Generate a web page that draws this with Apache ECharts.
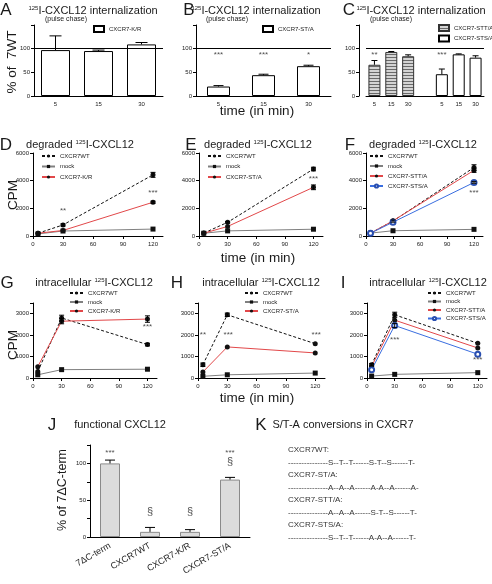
<!DOCTYPE html>
<html><head><meta charset="utf-8">
<script src="https://cdn.jsdelivr.net/npm/echarts@6/dist/echarts.min.js"></script>
<style>html,body{margin:0;padding:0;background:#fff}#c{width:492px;height:584px}</style>
</head><body><div id="c"></div>
<script>
// ---------------- data ----------------
const pulseTimes = ['5', '15', '30'];
const cTimes = ['5', '15', '30', '', '5', '15', '30'];
const krIntern = [97, 95, 109];
const krInternErr = [30, 2, 4];
const staIntern = [20, 44, 63];
const staInternErr = [2, 2, 2];
const sttaIntern = [66, 93, 84, null, null, null, null];
const sttaInternErr = [9, 1, 3, null, null, null, null];
const stsaIntern = [null, null, null, null, 46, 88, 81];
const stsaInternErr = [null, null, null, null, 11, 1, 4];
const starsB = [['5', 86, '***'], ['15', 86, '***'], ['30', 86, '*']];
const starsC = [[0, 88, '**'], [4, 86, '***']];

const chaseTimes = [5, 30, 120];
// degraded
const dWT = [200, 800, 4420], dWTErr = [0, 80, 180];
const dMock = [150, 360, 500];
const dKR = [200, 400, 2440], dKRErr = [0, 0, 80];
const eWT = [210, 990, 4840], eWTErr = [0, 60, 130];
const eMock = [200, 370, 490];
const eSTA = [200, 690, 3520], eSTAErr = [0, 0, 170];
const fWT = [210, 1080, 4950], fWTErr = [0, 80, 200];
const fMock = [210, 380, 480];
const fSTTA = [200, 1100, 4750], fSTTAErr = [0, 0, 150];
const fSTSA = [200, 1000, 3870], fSTSAErr = [0, 0, 60];
// intracellular
const gWT = [300, 2800, 1560], gWTErr = [0, 130, 60];
const gMock = [150, 390, 410];
const gKR = [530, 2650, 2750], gKRErr = [0, 120, 150];
const hWT = [620, 2950, 1600], hWTErr = [80, 80, 0];
const hMock = [80, 150, 230];
const hSTA = [280, 1450, 1170];
const iWT = [620, 2950, 1620], iWTErr = [60, 120, 0];
const iMock = [90, 170, 250];
const iSTTA = [540, 2700, 1400];
const iSTSA = [390, 2450, 1110], iSTSAErr = [0, 100, 0];
const starsD = [[30, 1850, '**'], [120, 3150, '***']];
const starsE = [[120, 4170, '***']];
const starsF = [[120, 3130, '***']];
const starsG = [[120, 2380, '***']];
const starsH = [[5, 2000, '**'], [31, 2000, '***'], [121, 2000, '***']];
const starsI = [[30, 1800, '***'], [120, 850, '***']];
// functional
const jCats = ['7\u0394C-term', 'CXCR7WT', 'CXCR7-K/R', 'CXCR7-ST/A'];
const jVals = [100, 7, 7, 78];
const jErr = [4.5, 6, 3, 3];
const starsJ = [[0, 114, '***'], [1, 34, '\u00a7'], [2, 34, '\u00a7'], [3, 114, '***'], [3, 102, '\u00a7']];
// sequences
const kLines = [
  'CXCR7WT:',
  '---------------S--T--T------S-T--S------T-',
  'CXCR7-ST/A:',
  '---------------A--A--A------A-A--A------A-',
  'CXCR7-STT/A:',
  '---------------A--A--A------S-T--S------T-',
  'CXCR7-STS/A:',
  '---------------S--T--T------A-A--A------T-'
];

// ---------------- helpers ----------------
const FONT = '"Liberation Sans", Arial, Helvetica, sans-serif';
const BLACK = '#111';
const RED = '#e2484a';
const BLUE = '#3a6ee0';
const GREY = '#808080';

const grids = [
  {left: 34, top: 25, width: 129, height: 71},   // A 0
  {left: 196, top: 25, width: 135, height: 71},  // B 1
  {left: 366, top: 25, width: 118, height: 71},  // C 2
  {left: 33, top: 153, width: 130, height: 83},  // D 3
  {left: 199, top: 153, width: 124, height: 83}, // E 4
  {left: 366, top: 153, width: 117, height: 83}, // F 5
  {left: 33, top: 303, width: 124, height: 75},  // G 6
  {left: 198, top: 303, width: 127, height: 75}, // H 7
  {left: 367, top: 303, width: 120, height: 75}, // I 8
  {left: 90, top: 445, width: 160, height: 92}   // J 9
];

const axLine = {show: true, lineStyle: {color: '#000', width: 1}};
const plain = v => String(v);
const lblBase = {fontSize: 6, color: '#222', fontFamily: FONT};
const xAxes = [], yAxes = [];
function catX(gi, data, extra) {
  xAxes.push(Object.assign({type: 'category', gridIndex: gi, data: data, axisLine: axLine,
    axisTick: {show: false}, axisLabel: Object.assign({}, lblBase, {interval: 0, margin: 5}), splitLine: {show: false}}, extra || {}));
}
function valX(gi) {
  xAxes.push({type: 'value', gridIndex: gi, min: 0, max: 130, interval: 30, axisLine: axLine,
    axisTick: {show: true, length: 3, customValues: [0, 30, 60, 90, 120]},
    axisLabel: Object.assign({}, lblBase, {customValues: [0, 30, 60, 90, 120], margin: 5, formatter: plain}), splitLine: {show: false}});
}
function valY(gi, max, interval, labels, extra) {
  yAxes.push(Object.assign({type: 'value', gridIndex: gi, min: 0, max: max, interval: interval, axisLine: axLine,
    axisTick: {show: true, length: 3},
    axisLabel: Object.assign({}, lblBase, {customValues: labels, margin: 4, formatter: plain}), splitLine: {show: false}}, extra || {}));
}
catX(0, pulseTimes); valY(0, 150, 50, [0, 50, 100]);
catX(1, pulseTimes); valY(1, 150, 50, [0, 50, 100]);
catX(2, cTimes); valY(2, 150, 50, [0, 50, 100], {offset: 7});
for (let g = 3; g <= 5; g++) { valX(g); valY(g, 6000, 2000, [0, 2000, 4000, 6000]); }
for (let g = 6; g <= 8; g++) { valX(g); valY(g, 3500, 1000, [0, 1000, 2000, 3000]); }
catX(9, jCats, {axisLabel: {interval: 0, rotate: 30, fontSize: 9, color: '#222', fontFamily: FONT, margin: 8}});
valY(9, 125, 25, [0, 50, 100]);

function errRender(capW, upOnly) {
  return function (params, api) {
    const x = api.value(0), y = api.value(1), e = api.value(2);
    if (!e) return null;
    const lo = api.coord([x, upOnly ? y : y - e]);
    const hi = api.coord([x, y + e]);
    const s = {stroke: '#000', lineWidth: 1};
    const ch = [
      {type: 'line', shape: {x1: hi[0], y1: hi[1], x2: lo[0], y2: lo[1]}, style: s},
      {type: 'line', shape: {x1: hi[0] - capW / 2, y1: hi[1], x2: hi[0] + capW / 2, y2: hi[1]}, style: s}
    ];
    if (!upOnly) ch.push({type: 'line', shape: {x1: lo[0] - capW / 2, y1: lo[1], x2: lo[0] + capW / 2, y2: lo[1]}, style: s});
    return {type: 'group', children: ch};
  };
}
const series = [];
function errSeries(gi, xs, vals, errs, capW, upOnly) {
  const data = [];
  vals.forEach((v, i) => { if (v != null && errs[i]) data.push([xs[i], v, errs[i]]); });
  series.push({type: 'custom', xAxisIndex: gi, yAxisIndex: gi, renderItem: errRender(capW, upOnly),
    encode: {x: 0, y: 1}, data: data, z: 5, silent: true});
}
function starSeries(gi, stars, size) {
  series.push({type: 'scatter', xAxisIndex: gi, yAxisIndex: gi, symbolSize: 1, silent: true,
    itemStyle: {color: 'rgba(0,0,0,0)'}, z: 6,
    label: {show: true, position: 'inside', formatter: '{b}', fontSize: size || 8, color: '#222', fontFamily: FONT},
    data: stars.map(s => ({name: s[2], value: [s[0], s[1]]}))});
}
const ref100 = {silent: true, symbol: 'none', label: {show: false}, lineStyle: {color: '#000', type: 'solid', width: 1},
  data: [{yAxis: 100}], animation: false};
const openBar = {color: '#fff', borderColor: '#000', borderWidth: 1};

// stripe pattern for STT/A bars
const pc = document.createElement('canvas');
pc.width = 4; pc.height = 3;
const pctx = pc.getContext('2d');
pctx.fillStyle = '#d4d4d4'; pctx.fillRect(0, 0, 4, 3);
pctx.fillStyle = '#6a6a6a'; pctx.fillRect(0, 0, 4, 1);
const stripe = {image: pc, repeat: 'repeat'};

// A
series.push({type: 'bar', name: 'CXCR7-K/R#A', xAxisIndex: 0, yAxisIndex: 0, data: krIntern, barWidth: 29, itemStyle: openBar, markLine: ref100});
errSeries(0, [0, 1, 2], krIntern, krInternErr, 12, true);
// B
series.push({type: 'bar', name: 'CXCR7-ST/A#B', xAxisIndex: 1, yAxisIndex: 1, data: staIntern, barWidth: 23, itemStyle: openBar, markLine: ref100});
errSeries(1, [0, 1, 2], staIntern, staInternErr, 10, true);
starSeries(1, starsB);
// C
series.push({type: 'bar', name: 'CXCR7-STT/A#C', xAxisIndex: 2, yAxisIndex: 2, data: sttaIntern, barWidth: 12, barGap: '-100%',
  itemStyle: {color: stripe, borderColor: '#333', borderWidth: 1}, markLine: ref100});
series.push({type: 'bar', name: 'CXCR7-STS/A#C', xAxisIndex: 2, yAxisIndex: 2, data: stsaIntern, barWidth: 12, barGap: '-100%', itemStyle: openBar});
errSeries(2, [0, 1, 2, 3, 4, 5, 6], sttaIntern, sttaInternErr, 6, true);
errSeries(2, [0, 1, 2, 3, 4, 5, 6], stsaIntern, stsaInternErr, 6, true);
starSeries(2, starsC);

// line panels
const styles = {
  WT: {symbol: 'circle', symbolSize: 5, itemStyle: {color: BLACK}, lineStyle: {color: BLACK, width: 1, type: [3, 2]}},
  mock: {symbol: 'rect', symbolSize: 5, itemStyle: {color: BLACK}, lineStyle: {color: GREY, width: 1}},
  mut: {symbol: 'circle', symbolSize: 5, itemStyle: {color: BLACK}, lineStyle: {color: RED, width: 1}},
  sts: {symbol: 'emptyCircle', symbolSize: 5, itemStyle: {color: '#2a4fb0', borderColor: '#2a4fb0', borderWidth: 1}, lineStyle: {color: BLUE, width: 1}}
};
function lineSeries(gi, name, vals, st, errs) {
  series.push(Object.assign({type: 'line', name: name, xAxisIndex: gi, yAxisIndex: gi,
    data: chaseTimes.map((t, i) => [t, vals[i]]), z: 3}, JSON.parse(JSON.stringify(styles[st]))));
  if (errs) errSeries(gi, chaseTimes, vals, errs, 5, false);
}
lineSeries(3, 'CXCR7WT#D', dWT, 'WT', dWTErr);
lineSeries(3, 'mock#D', dMock, 'mock');
lineSeries(3, 'CXCR7-K/R#D', dKR, 'mut', dKRErr);
starSeries(3, starsD);
lineSeries(4, 'CXCR7WT#E', eWT, 'WT', eWTErr);
lineSeries(4, 'mock#E', eMock, 'mock');
lineSeries(4, 'CXCR7-ST/A#E', eSTA, 'mut', eSTAErr);
starSeries(4, starsE);
lineSeries(5, 'CXCR7WT#F', fWT, 'WT', fWTErr);
lineSeries(5, 'mock#F', fMock, 'mock');
lineSeries(5, 'CXCR7-STT/A#F', fSTTA, 'mut', fSTTAErr);
lineSeries(5, 'CXCR7-STS/A#F', fSTSA, 'sts', fSTSAErr);
starSeries(5, starsF);
lineSeries(6, 'CXCR7WT#G', gWT, 'WT', gWTErr);
lineSeries(6, 'mock#G', gMock, 'mock');
lineSeries(6, 'CXCR7-K/R#G', gKR, 'mut', gKRErr);
starSeries(6, starsG);
lineSeries(7, 'CXCR7WT#H', hWT, 'WT', hWTErr);
lineSeries(7, 'mock#H', hMock, 'mock');
lineSeries(7, 'CXCR7-ST/A#H', hSTA, 'mut');
starSeries(7, starsH);
lineSeries(8, 'CXCR7WT#I', iWT, 'WT', iWTErr);
lineSeries(8, 'mock#I', iMock, 'mock');
lineSeries(8, 'CXCR7-STT/A#I', iSTTA, 'mut');
lineSeries(8, 'CXCR7-STS/A#I', iSTSA, 'sts', iSTSAErr);
starSeries(8, starsI);
// J
series.push({type: 'bar', name: 'functional', xAxisIndex: 9, yAxisIndex: 9, data: jVals, barWidth: 20,
  itemStyle: {color: '#dcdcdc', borderColor: '#8a8a8a', borderWidth: 1}});
errSeries(9, [0, 1, 2, 3], jVals, jErr, 10, true);
series.push({type: 'scatter', xAxisIndex: 9, yAxisIndex: 9, symbolSize: 1, silent: true, itemStyle: {color: 'rgba(0,0,0,0)'}, z: 6,
  label: {show: true, position: 'inside', formatter: '{b}', color: '#222', fontFamily: FONT},
  data: starsJ.map(s => ({name: s[2], value: [s[0], s[1]], label: {fontSize: s[2] === '***' ? 8 : 11}}))});

// legends
function legend(left, top, names, gap, bar) {
  const l = {left: left, top: top, padding: 0, orient: 'vertical', itemGap: gap, itemWidth: bar ? 10 : 13, itemHeight: bar ? 6 : 4,
    selectedMode: false, data: names, formatter: n => n.split('#')[0],
    textStyle: {fontSize: 6, color: '#222', fontFamily: FONT}};
  if (bar) l.icon = 'rect';
  return l;
}
const legends = [
  legend(93, 25, ['CXCR7-K/R#A'], 3, true),
  legend(262, 25, ['CXCR7-ST/A#B'], 3, true),
  legend(438, 24, ['CXCR7-STT/A#C', 'CXCR7-STS/A#C'], 2.5, true),
  legend(41, 153, ['CXCR7WT#D', 'mock#D', 'CXCR7-K/R#D'], 4.5),
  legend(207, 153, ['CXCR7WT#E', 'mock#E', 'CXCR7-ST/A#E'], 4.5),
  legend(369, 153, ['CXCR7WT#F', 'mock#F', 'CXCR7-STT/A#F', 'CXCR7-STS/A#F'], 4),
  legend(69, 290, ['CXCR7WT#G', 'mock#G', 'CXCR7-K/R#G'], 3),
  legend(244, 290, ['CXCR7WT#H', 'mock#H', 'CXCR7-ST/A#H'], 3),
  legend(427, 290, ['CXCR7WT#I', 'mock#I', 'CXCR7-STT/A#I', 'CXCR7-STS/A#I'], 2.5)
];

// texts
const graphics = [];
function txt(x, y, text, size, opt) {
  graphics.push(Object.assign({type: 'text', x: x, y: y, silent: true,
    style: Object.assign({text: text, fontSize: size, fontFamily: FONT, fill: '#1a1a1a', align: 'center', verticalAlign: 'middle',
      rich: {s: {fontSize: 6, verticalAlign: 'top', fontFamily: FONT, fill: '#1a1a1a'}, m: {fontSize: size, fontFamily: FONT, fill: '#1a1a1a'}}},
      (opt && opt.style) || {})}, (opt && opt.el) || {}));
}
// panel letters
[['A', 6, 10], ['B', 189, 10], ['C', 349, 10], ['D', 6, 145], ['E', 191, 145], ['F', 350, 145],
 ['G', 7, 283], ['H', 177, 283], ['I', 343, 283], ['J', 52, 425], ['K', 261, 425]].forEach(l => txt(l[1], l[2], l[0], 17));
const intern = '{s|125}{m|I-CXCL12 internalization}';
txt(93, 11, intern, 11); txt(256, 11, intern, 11); txt(421, 11, intern, 11);
txt(66, 19.5, '(pulse chase)', 7); txt(227, 19.5, '(pulse chase)', 7); txt(391, 19.5, '(pulse chase)', 7);
const degr = '{m|degraded }{s|125}{m|I-CXCL12}';
txt(80, 145, degr, 11); txt(258, 145, degr, 11); txt(423, 145, degr, 11);
const intra = '{m|intracellular }{s|125}{m|I-CXCL12}';
txt(94, 283, intra, 11); txt(261, 283, intra, 11); txt(428, 283, intra, 11);
txt(120, 425, 'functional CXCL12', 11);
txt(343, 425, 'S/T-A conversions in CXCR7', 11);
txt(257, 111, 'time (in min)', 13.5); txt(258, 258, 'time (in min)', 13.5); txt(257, 398, 'time (in min)', 13.5);
txt(12, 62, '% of  7WT', 13.5, {el: {rotation: Math.PI / 2}});
txt(13, 195, 'CPM', 13.5, {el: {rotation: Math.PI / 2}});
txt(13, 345, 'CPM', 13.5, {el: {rotation: Math.PI / 2}});
txt(63, 490, '% of 7\u0394C-term', 12.5, {el: {rotation: Math.PI / 2}});
kLines.forEach((t, i) => txt(288, 450 + i * 12.5, t, 8, {style: {align: 'left', fill: '#333'}}));

const chart = echarts.init(document.getElementById('c'));
chart.setOption({
  animation: false,
  backgroundColor: '#fff',
  textStyle: {fontFamily: FONT},
  grid: grids,
  xAxis: xAxes,
  yAxis: yAxes,
  legend: legends,
  series: series,
  graphic: graphics
});
</script></body></html>
